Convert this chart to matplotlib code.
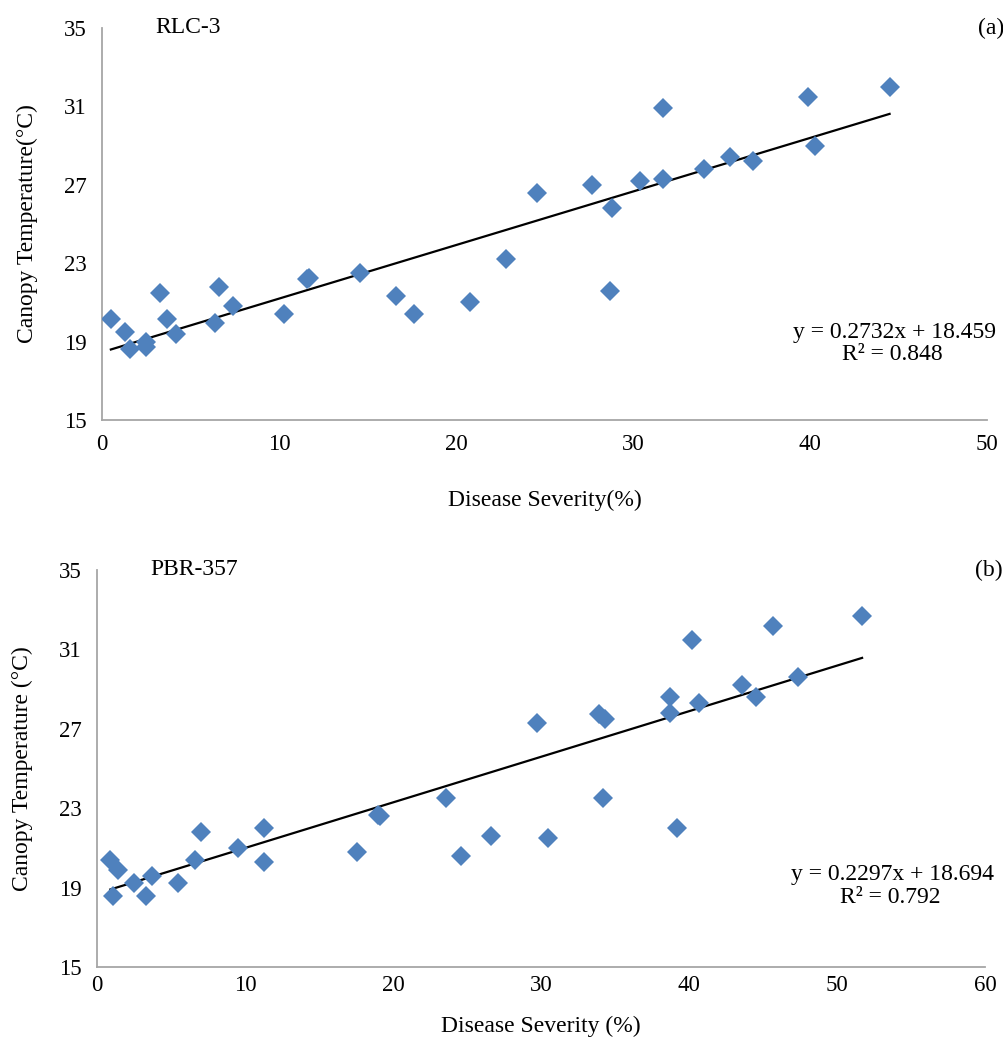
import numpy as np
import matplotlib.pyplot as plt

plt.rcParams['font.family'] = ['Liberation Serif', 'DejaVu Serif']

# RLC-3: disease severity (%) vs canopy temperature (°C)
sev_a = [0.5, 1.3, 1.6, 2.5, 2.5, 3.3, 3.7, 4.2, 6.4, 6.6, 7.4, 10.3, 11.6, 11.7,
         14.6, 16.6, 17.6, 20.8, 22.8, 24.6, 27.7, 28.8, 28.7, 30.4, 31.7, 31.7,
         34.0, 35.5, 36.8, 39.9, 40.3, 44.5]
temp_a = [20.15, 19.5, 18.6, 19.0, 18.7, 21.5, 20.15, 19.4, 19.95, 21.8, 20.8, 20.4,
          22.2, 22.25, 22.5, 21.3, 20.4, 21.0, 23.2, 26.6, 27.0, 25.8, 21.6, 27.2,
          30.9, 27.3, 27.8, 28.4, 28.2, 31.5, 29.0, 32.0]
coef_a = (0.2732, 18.459)
r2_a = 0.848

# PBR-357
sev_b = [0.9, 1.4, 1.1, 2.5, 3.3, 3.7, 5.5, 6.6, 7.0, 9.5, 11.3, 11.3, 17.6, 19.0,
         19.1, 23.6, 24.6, 26.6, 29.7, 30.5, 33.9, 34.3, 34.2, 38.7, 38.7, 39.2,
         40.2, 40.7, 43.6, 44.5, 45.7, 47.4, 51.7]
temp_b = [20.4, 19.9, 18.55, 19.25, 18.55, 19.6, 19.25, 20.4, 21.8, 21.0, 22.0, 20.3,
          20.8, 22.65, 22.6, 23.5, 20.6, 21.6, 27.3, 21.5, 27.75, 27.5, 23.5, 28.6,
          27.8, 22.0, 31.45, 28.3, 29.2, 28.6, 32.2, 29.6, 32.7]
coef_b = (0.2297, 18.694)
r2_b = 0.792

blue = '#4F81BD'
fs = 17
tfs = 16.5

fig = plt.figure(figsize=(10.04, 10.51), dpi=100)
ax1 = fig.add_axes([0.1016, 0.6004, 0.8814, 0.3730])
ax2 = fig.add_axes([0.0966, 0.0800, 0.8844, 0.3777])


def panel(ax, x, y, coef, r2, xmax, name, tag, xlab, ylab, eq_y, xpad, xlpad):
    ax.plot(x, y, 'D', color=blue, markersize=10.5, markeredgewidth=0, zorder=3)
    xs = np.array([min(x), max(x)])
    ax.plot(xs, coef[0] * xs + coef[1], color='black', lw=1.6, zorder=2)
    ax.set_xlim(0, xmax)
    ax.set_ylim(15, 35)
    ax.set_yticks([15, 19, 23, 27, 31, 35])
    ax.set_xticks(np.arange(0, xmax + 1, 10))
    ax.tick_params(length=0, labelsize=tfs)
    ax.tick_params(axis='y', pad=11)
    ax.tick_params(axis='x', pad=xpad)
    for s in ['top', 'right']:
        ax.spines[s].set_visible(False)
    for s in ['left', 'bottom']:
        ax.spines[s].set_color('#a6a6a6')
        ax.spines[s].set_linewidth(1.3)
    ax.set_xlabel(xlab, fontsize=fs, labelpad=xlpad)
    ax.set_ylabel(ylab, fontsize=fs, labelpad=19)
    ax.text(0.06, 1.0, name, transform=ax.transAxes, fontsize=fs, va='center')
    ax.text(1.02, 1.0, tag, transform=ax.transAxes, fontsize=fs, va='center', ha='right')
    ax.text(1.01, eq_y, 'y = %.4fx + %.3f' % coef, transform=ax.transAxes,
            fontsize=fs, ha='right', va='center')
    ax.text(0.893, eq_y - 0.056, 'R\u00b2 = %.3f' % r2, transform=ax.transAxes,
            fontsize=fs, ha='center', va='center')


panel(ax1, sev_a, temp_a, coef_a, r2_a, 50, 'RLC-3', '(a)',
      'Disease Severity(%)', 'Canopy Temperature(\u00b0C)', 0.222, 10, 25)
panel(ax2, sev_b, temp_b, coef_b, r2_b, 60, 'PBR-357', '(b)',
      'Disease Severity (%)', 'Canopy Temperature (\u00b0C)', 0.232, 6, 14)

fig.savefig('out.png', dpi=100)
